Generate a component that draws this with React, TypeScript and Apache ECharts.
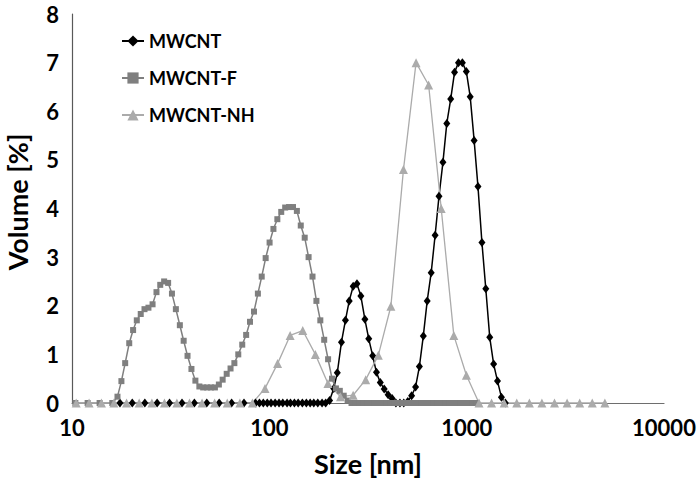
import React, { useEffect, useRef } from "react";
import * as echarts from "echarts";

// ---- data (size in nm, volume in %) ----
const sizeMWCNT = [
  17.5, 20.2, 23.4, 27.0, 31.2, 36.1, 41.7, 48.2, 55.7, 64.4, 74.4,
  85.1, 89.1, 93.2, 97.6, 102, 107, 112, 117, 123, 128, 134, 140, 147, 154, 161,
  168, 176, 185, 193, 202, 212, 221, 232, 243, 254, 266, 278, 291, 305, 319,
  334, 349, 365, 382, 400, 419, 438, 459, 480, 503, 526, 551, 576, 603, 631,
  661, 692, 724, 758, 793, 830, 868, 909, 951, 996, 1042, 1091, 1141, 1195,
  1250, 1309, 1370, 1433, 1500, 1570,
];
const volMWCNT = [
  0, 0, 0, 0, 0, 0, 0, 0, 0, 0, 0,
  0, 0, 0, 0, 0, 0, 0, 0, 0, 0, 0, 0, 0, 0, 0,
  0, 0, 0, 0, 0.05, 0.3, 0.62, 1.25, 1.7, 2.1, 2.4, 2.45, 2.2, 1.72, 1.32,
  0.97, 0.63, 0.42, 0.29, 0.17, 0.09, 0, 0, 0, 0.03, 0.15, 0.33, 0.75, 1.38, 2.1,
  2.68, 3.45, 4.25, 4.95, 5.75, 6.25, 6.8, 7.0, 7.0, 6.82, 6.3, 5.4, 4.45, 3.3,
  2.35, 1.35, 0.8, 0.45, 0.12, 0,
];

const sizeMWCNTF = [
  10.4, 12.0, 13.8, 16.0,
  17.0, 17.8, 18.6, 19.5, 20.4, 21.3, 22.3, 23.3, 24.4, 25.6,
  26.8, 28.0, 29.3, 30.7, 32.1, 33.6, 35.2, 36.8, 38.5, 40.3,
  42.2, 44.2, 46.2, 48.4, 50.6, 53.0, 55.5, 58.0, 60.8, 63.6,
  66.5, 69.6, 72.9, 76.3, 79.8, 83.6, 87.5, 91.5, 95.8, 100.3,
  104.9, 109.8, 114.9, 120.3, 125.9, 131.8, 137.9, 144.3, 151.1, 158.1,
  165.5, 173.2, 181.3, 189.7, 198.5, 207.8, 217.5, 227.6, 238.2, 249.3,
  260.9, 273.1, 285.8, 299.1, 313.0, 327.6, 342.9, 358.9, 375.6, 393.1,
  411.4, 430.6, 450.7, 471.7, 493.6, 516.6, 540.7, 565.9, 592.3, 619.9,
  648.8, 679.0, 710.6, 743.7, 778.4, 814.7, 852.7, 892.4, 934.0, 977.5,
  1023, 1071, 1121,
];
const volMWCNTF = [
  0, 0, 0, 0,
  0.13, 0.45, 0.82, 1.23, 1.5, 1.7, 1.83, 1.93, 1.96, 2.03,
  2.28, 2.43, 2.5, 2.47, 2.25, 1.93, 1.6, 1.28, 0.97, 0.7,
  0.46, 0.34, 0.32, 0.32, 0.32, 0.32, 0.38, 0.48, 0.6, 0.71,
  0.82, 1.0, 1.2, 1.4, 1.67, 1.88, 2.25, 2.6, 2.98, 3.3,
  3.58, 3.78, 3.93, 4.02, 4.03, 4.03, 3.95, 3.65, 3.4, 3.0,
  2.6, 2.1, 1.7, 1.3, 0.9, 0.5, 0.3, 0.25, 0.15, 0.05,
  0, 0, 0, 0, 0, 0, 0, 0, 0, 0,
  0, 0, 0, 0, 0, 0, 0, 0, 0, 0,
  0, 0, 0, 0, 0, 0, 0, 0, 0, 0,
  0, 0, 0,
];

const sizeMWCNTNH = [
  10.5, 12.2, 14.1, 16.3, 18.9, 21.9, 25.4, 29.4, 34.0, 39.4, 45.6, 52.8, 61.2, 70.9, 82.1,
  95.1, 110.1, 127.5, 147.7, 171.1, 198.2, 229.5, 265.8, 307.9, 356.6, 413.0, 478.3,
  554.0, 641.6, 743.1, 860.7, 996.9,
  1155, 1337, 1549, 1794, 2078, 2406, 2787, 3228, 3739, 4330, 5015,
];
const volMWCNTNH = [
  0, 0, 0, 0, 0, 0, 0, 0, 0, 0, 0, 0, 0, 0, 0,
  0.3, 0.81, 1.39, 1.49, 1.0, 0.4, 0.13, 0.16, 0.48, 0.98, 1.99, 4.8,
  7.0, 6.54, 4.0, 1.39, 0.57,
  0, 0, 0, 0, 0, 0, 0, 0, 0, 0, 0,
];

const yTicks = { min: 0, max: 8, interval: 1 };
const xRange = { min: 10, max: 10000 };

const FONT = "Lato";

const zip = (xs: number[], ys: number[]) => xs.map((x, i) => [x, ys[i]]);

export default function App() {
  const ref = useRef<HTMLDivElement>(null);
  useEffect(() => {
    if (!ref.current) return;
    const chart = echarts.init(ref.current, null, { renderer: "svg" });
    chart.setOption({
      animation: false,
      backgroundColor: "#ffffff",
      grid: { left: 72, right: 35, top: 14, bottom: 78 },
      legend: {
        orient: "vertical",
        left: 116,
        top: 27,
        itemWidth: 22,
        itemHeight: 14,
        itemGap: 19,
        textStyle: { fontFamily: FONT, fontWeight: "bold", fontSize: 18, color: "#000" },
        data: ["MWCNT", "MWCNT-F", "MWCNT-NH"],
      },
      xAxis: {
        type: "log",
        logBase: 10,
        min: xRange.min,
        max: xRange.max,
        axisLine: { show: true, lineStyle: { color: "#6e6e6e", width: 1.2 } },
        axisTick: { show: false },
        splitLine: { show: false },
        minorTick: { show: false },
        axisLabel: {
          fontFamily: FONT,
          fontWeight: "bold",
          fontSize: 22,
          color: "#000",
          margin: 13,
          formatter: (v: number) => String(Math.round(v)),
        },
      },
      yAxis: {
        type: "value",
        min: yTicks.min,
        max: yTicks.max,
        interval: yTicks.interval,
        axisLine: { show: true, lineStyle: { color: "#595959", width: 1.2 } },
        axisTick: { show: false },
        splitLine: { show: false },
        axisLabel: {
          fontFamily: FONT,
          fontWeight: "bold",
          fontSize: 22,
          color: "#000",
          margin: 13,
        },
      },
      graphic: [
        {
          type: "text",
          x: 368,
          y: 463,
          style: {
            text: "Size [nm]",
            fontFamily: FONT,
            fontWeight: "bold",
            fontSize: 27,
            fill: "#000",
            align: "center",
            verticalAlign: "middle",
          },
        },
        {
          type: "text",
          x: 17,
          y: 202,
          rotation: Math.PI / 2,
          style: {
            text: "Volume [%]",
            fontFamily: FONT,
            fontWeight: "bold",
            fontSize: 27,
            fill: "#000",
            align: "center",
            verticalAlign: "middle",
          },
        },
      ],
      series: [
        {
          name: "MWCNT",
          type: "line",
          data: zip(sizeMWCNT, volMWCNT),
          symbol: "diamond",
          symbolSize: [7, 9],
          showAllSymbol: true,
          clip: false,
          lineStyle: { color: "#000", width: 1.5 },
          itemStyle: { color: "#000" },
        },
        {
          name: "MWCNT-F",
          type: "line",
          data: zip(sizeMWCNTF, volMWCNTF),
          symbol: "rect",
          symbolSize: 6,
          showAllSymbol: true,
          clip: false,
          lineStyle: { color: "#7f7f7f", width: 1.5 },
          itemStyle: { color: "#7f7f7f" },
        },
        {
          name: "MWCNT-NH",
          type: "line",
          data: zip(sizeMWCNTNH, volMWCNTNH),
          symbol: "triangle",
          symbolSize: 9,
          showAllSymbol: true,
          clip: false,
          lineStyle: { color: "#ababab", width: 1.3 },
          itemStyle: { color: "#ababab" },
        },
      ],
    });
    return () => chart.dispose();
  }, []);
  return (
    <div
      ref={ref}
      style={{ position: "absolute", left: 0, top: 0, width: 699, height: 481 }}
    />
  );
}
